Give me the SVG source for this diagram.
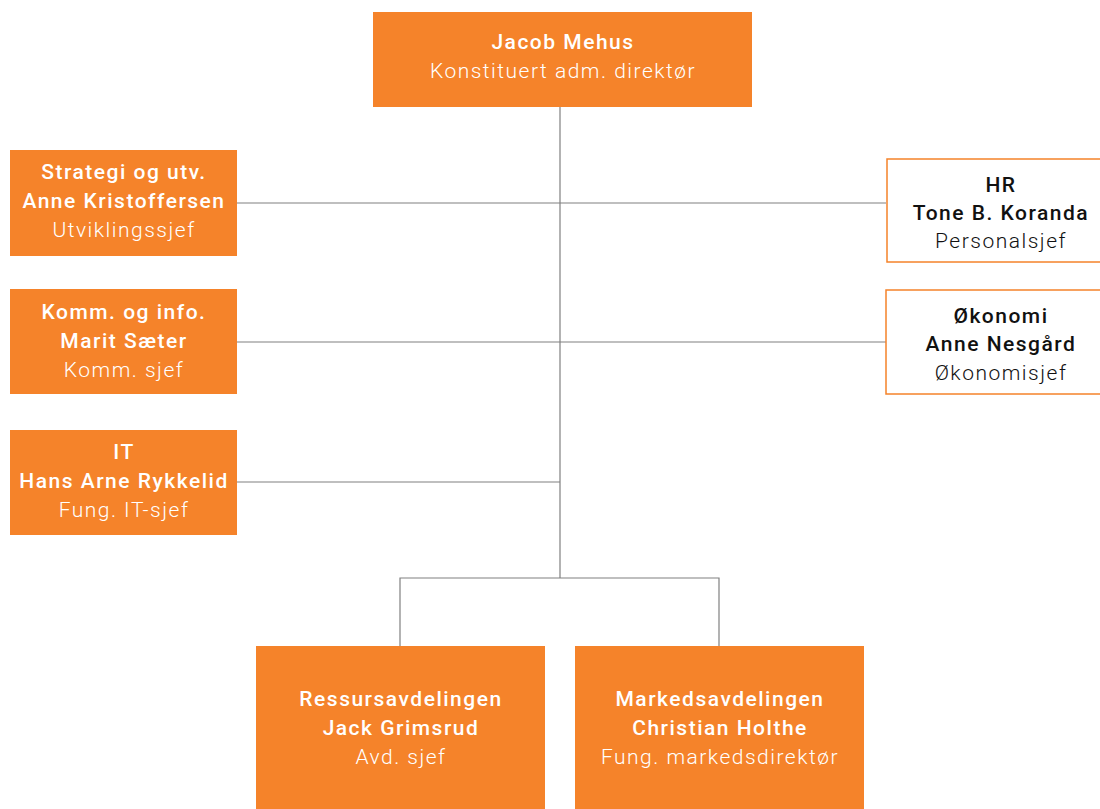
<svg xmlns="http://www.w3.org/2000/svg" width="1100" height="809" viewBox="0 0 1100 809">
<style>
.box{fill:#F5832A}
.obox{fill:#fff;stroke:#F5832A;stroke-width:1.5}
.t{font-family:Roboto,"Liberation Sans",sans-serif;font-size:21px;letter-spacing:1.5px;text-anchor:middle}
.w{fill:#fff}
.k{fill:#111}
.b{font-weight:500}
.l{font-weight:300}
.c{stroke:#808080;stroke-width:1.2;fill:none}
</style>
<rect width="1100" height="809" fill="#fff"/>
<g id="connectors">
<path class="c" d="M560,107V578M237,203H886M237,342H886M237,482H560M400,646V578H719V646"/>
</g>
<g id="top">
<rect class="box" x="373" y="12" width="379" height="95"/>
<text class="t w b" x="563" y="49">Jacob Mehus</text>
<text class="t w l" x="563" y="78">Konstituert adm. direktør</text>
</g>
<g id="strategi">
<rect class="box" x="10" y="150" width="227" height="106"/>
<text class="t w b" x="124" y="179">Strategi og utv.</text>
<text class="t w b" x="124" y="208">Anne Kristoffersen</text>
<text class="t w l" x="124" y="237">Utviklingssjef</text>
</g>
<g id="komm">
<rect class="box" x="10" y="289" width="227" height="105"/>
<text class="t w b" x="124" y="319">Komm. og info.</text>
<text class="t w b" x="124" y="348">Marit Sæter</text>
<text class="t w l" x="124" y="377">Komm. sjef</text>
</g>
<g id="it">
<rect class="box" x="10" y="430" width="227" height="105"/>
<text class="t w b" x="124" y="459">IT</text>
<text class="t w b" x="124" y="488">Hans Arne Rykkelid</text>
<text class="t w l" x="124" y="517">Fung. IT-sjef</text>
</g>
<g id="hr">
<rect class="obox" x="887" y="159" width="227" height="103"/>
<text class="t k b" x="1001" y="192">HR</text>
<text class="t k b" x="1001" y="220">Tone B. Koranda</text>
<text class="t k l" x="1001" y="248">Personalsjef</text>
</g>
<g id="okonomi">
<rect class="obox" x="886" y="290" width="227" height="104"/>
<text class="t k b" x="1001" y="323">Økonomi</text>
<text class="t k b" x="1001" y="351">Anne Nesgård</text>
<text class="t k l" x="1001" y="380">Økonomisjef</text>
</g>
<g id="ressurs">
<rect class="box" x="256" y="646" width="289" height="163"/>
<text class="t w b" x="401" y="706">Ressursavdelingen</text>
<text class="t w b" x="401" y="735">Jack Grimsrud</text>
<text class="t w l" x="401" y="764">Avd. sjef</text>
</g>
<g id="marked">
<rect class="box" x="575" y="646" width="289" height="163"/>
<text class="t w b" x="720" y="706">Markedsavdelingen</text>
<text class="t w b" x="720" y="735">Christian Holthe</text>
<text class="t w l" x="720" y="764">Fung. markedsdirektør</text>
</g>
</svg>
